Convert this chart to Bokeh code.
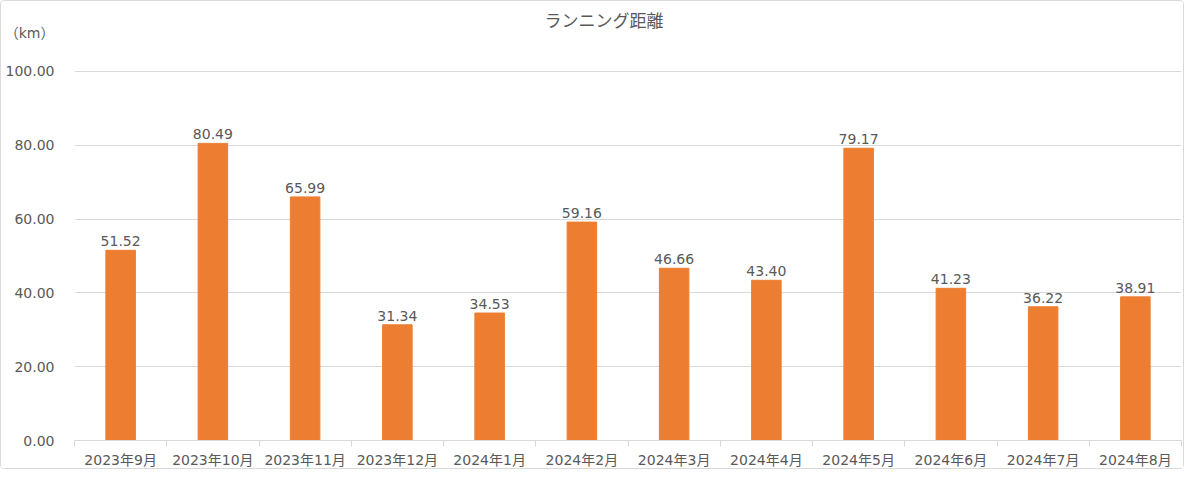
from bokeh.plotting import figure
from bokeh.models import ColumnDataSource, LabelSet, FixedTicker, NumeralTickFormatter, Range1d
from bokeh.core.properties import value
from bokeh.embed import file_html
from bokeh.resources import INLINE

months = ["2023年9月", "2023年10月", "2023年11月", "2023年12月", "2024年1月", "2024年2月",
          "2024年3月", "2024年4月", "2024年5月", "2024年6月", "2024年7月", "2024年8月"]
distance = [51.52, 80.49, 65.99, 31.34, 34.53, 59.16, 46.66, 43.40, 79.17, 41.23, 36.22, 38.91]
y_ticks = [0, 20, 40, 60, 80, 100]
unit_label = "（km）"

FONT = "'DejaVu Sans', 'Noto Sans CJK JP'"
JP = "Noto Sans CJK JP"
TXT = "#595959"
GRID = "#D9D9D9"

n = len(months)
xs = [i + 0.5 for i in range(n)]
src = ColumnDataSource(dict(x=xs, y=distance, label=["%.2f" % v for v in distance]))

# the frame reaches above 100 so the unit can sit on the value axis, like the reference
Y_TOP = 110.8
UNIT_POS = 110.5

p = figure(width=1184, height=469, output_backend="svg", toolbar_location=None,
           x_range=Range1d(0, n), y_range=Range1d(0, Y_TOP),
           min_border_left=71, min_border_right=4, min_border_top=30, min_border_bottom=29)
p.outline_line_color = None
p.background_fill_color = "white"
p.border_fill_color = "white"

p.title.text = "ランニング距離"
p.title.align = "left"
p.title.offset = 470
p.title.standoff = 0
p.title.text_font = JP
p.title.text_font_size = "17px"
p.title.text_font_style = "normal"
p.title.text_color = TXT

p.vbar(x="x", top="y", width=0.32, source=src, color="#ED7D31")

p.add_layout(LabelSet(x="x", y="y", text="label", source=src, text_align="center",
                      text_baseline="bottom", y_offset=4, text_font_size=value("14px"),
                      text_color=value(TXT), text_font=value(FONT)))

# y axis
p.yaxis.ticker = FixedTicker(ticks=y_ticks + [UNIT_POS])
p.yaxis.formatter = NumeralTickFormatter(format="0.00")
p.yaxis.major_label_overrides = {UNIT_POS: unit_label}
p.yaxis.axis_line_color = None
p.yaxis.major_tick_line_color = None
p.yaxis.minor_tick_line_color = None
p.yaxis.major_label_text_font = FONT
p.yaxis.major_label_text_font_size = "14px"
p.yaxis.major_label_text_color = TXT
p.yaxis.major_label_standoff = 14
p.ygrid.grid_line_color = GRID
p.ygrid.ticker = FixedTicker(ticks=y_ticks)

# x axis
p.xaxis.ticker = FixedTicker(ticks=xs, minor_ticks=list(range(n + 1)))
p.xaxis.major_label_overrides = {x: m for x, m in zip(xs, months)}
p.xaxis.axis_line_color = GRID
p.xaxis.major_tick_line_color = None
p.xaxis.minor_tick_line_color = GRID
p.xaxis.minor_tick_out = 6
p.xaxis.minor_tick_in = 0
p.xaxis.major_label_text_font = FONT
p.xaxis.major_label_text_font_size = "14px"
p.xaxis.major_label_text_color = TXT
p.xaxis.major_label_standoff = 5
p.xgrid.grid_line_color = None

p.styles = {"border": "1px solid #D9D9D9", "border-radius": "4px", "box-sizing": "border-box"}

open("out.html", "w").write(file_html(p, INLINE))
